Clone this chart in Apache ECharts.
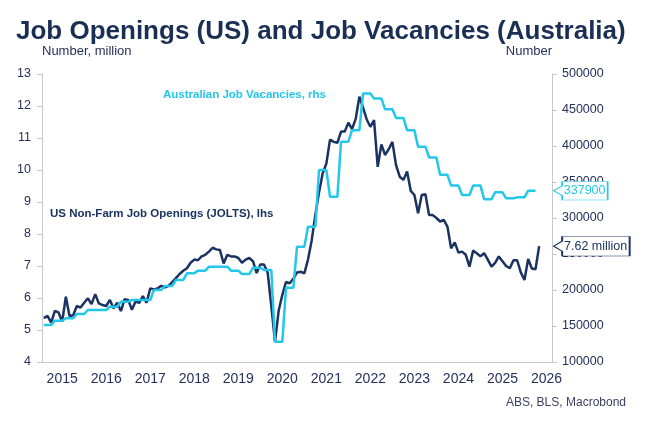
<!DOCTYPE html>
<html>
<head>
<meta charset="utf-8">
<script src="https://cdn.jsdelivr.net/npm/echarts@6/dist/echarts.min.js"></script>
<style>
  html, body { margin: 0; padding: 0; background: #fff; }
  #main { width: 646px; height: 430px; }
</style>
</head>
<body>
<div id="main"></div>
<script>
// x axis runs Jan 2015 .. Jul 2026, one category per month
const startYear = 2015;
const monthCount = 139;

// US job openings (JOLTS), million, monthly from Jan 2015
const joltsValues = [
  5.37, 5.44, 5.23, 5.60, 5.55, 5.26, 6.04, 5.44, 5.46, 5.75, 5.70, 5.85,
  5.99, 5.81, 6.12, 5.83, 5.78, 5.75, 5.94, 5.68, 5.85, 5.59, 5.96, 5.94,
  5.63, 5.89, 5.85, 6.06, 5.85, 6.30, 6.27, 6.30, 6.38, 6.33, 6.38, 6.50,
  6.62, 6.75, 6.85, 6.93, 7.10, 7.20, 7.18, 7.30, 7.35, 7.45, 7.57, 7.52,
  7.50, 7.08, 7.35, 7.30, 7.30, 7.25, 7.10, 7.20, 7.25, 7.15, 6.78, 7.05,
  7.05, 6.80, 5.75, 4.64, 5.60, 6.10, 6.50, 6.46, 6.60, 6.80, 6.82, 6.77,
  7.20, 7.80, 8.60, 9.30, 9.90, 10.20, 10.95, 10.88, 10.85, 11.20, 11.20, 11.48,
  11.28, 11.60, 12.29, 11.95, 11.58, 11.35, 11.56, 10.10, 10.80, 10.47, 10.65, 10.88,
  10.15, 9.79, 9.69, 9.95, 9.35, 9.22, 8.65, 9.22, 9.24, 8.59, 8.59, 8.50,
  8.39, 8.44, 8.23, 7.55, 7.74, 7.42, 7.45, 7.35, 6.98, 7.48, 7.40, 7.30,
  7.40, 7.20, 6.98, 7.10, 7.30, 7.15, 7.00, 6.93, 7.18, 7.18, 6.80, 6.56,
  7.22, 6.92, 6.90, 7.62
];

// Australian job vacancies, quarterly from Q1 2015 (each shown for 3 months)
const ausQuarterly = [
  151400, 157400, 160700, 166700,
  172200, 172200, 176800, 183800,
  186100, 186100, 200000, 205600,
  213900, 223200, 226900, 232400,
  232400, 226900, 222200, 231000,
  227800, 128000, 203000, 260000,
  288000, 366700, 329600, 406000,
  422000, 473000, 466000, 451000,
  439000, 422000, 399000, 384000,
  360000, 345000, 332000, 345000,
  326000, 335600, 327300, 328700,
  337900
];

const leftTicks = { min: 4, max: 13, step: 1 };
const rightTicks = { min: 100000, max: 500000, step: 50000 };

const months = [];
for (let i = 0; i < monthCount; i++) {
  const m = (i % 12) + 1;
  months.push(`${startYear + Math.floor(i / 12)}-${m < 10 ? "0" + m : m}`);
}
const ausMonthly = ausQuarterly.flatMap((v) => [v, v, v]);

const navy = "#1b3360";
const cyan = "#22c7e9";
const inkColor = "#26305c";
const axisGrey = "#c8c8c8";
const font = '"Liberation Sans", Arial, sans-serif';

// callout box with a pointer on the left side
function callout(w, h) {
  const a = 8.5, m = h / 2, d = h * 0.26;
  return `path://M0,${m}L${a},${m - d}L${a},0L${w},0L${w},${h}L${a},${h}L${a},${m + d}Z`;
}

const lastMonth = months[months.length - 1];
const joltsLast = joltsValues[joltsValues.length - 1];
const ausLast = ausQuarterly[ausQuarterly.length - 1];

const myChart = echarts.init(document.getElementById("main"), null, { renderer: "canvas" });

myChart.setOption({
  animation: false,
  backgroundColor: "#fff",
  textStyle: { fontFamily: font },
  grid: { left: 42, right: 94, top: 74, bottom: 68, containLabel: false },
  xAxis: {
    type: "category",
    data: months,
    boundaryGap: true,
    axisLine: { lineStyle: { color: axisGrey, width: 1 } },
    axisTick: {
      interval: (i) => i % 12 === 0,
      length: 5,
      lineStyle: { color: axisGrey },
    },
    axisLabel: {
      interval: (i) => i % 12 === 5,
      formatter: (v) => v.slice(0, 4),
      color: inkColor,
      fontSize: 14,
      margin: 10,
      fontFamily: font,
    },
    splitLine: { show: false },
  },
  yAxis: [
    {
      type: "value",
      position: "left",
      min: leftTicks.min,
      max: leftTicks.max,
      interval: leftTicks.step,
      name: "Number, million",
      nameLocation: "end",
      nameGap: 16,
      nameTextStyle: { align: "left", color: inkColor, fontSize: 13, fontFamily: font },
      axisLine: { show: true, lineStyle: { color: axisGrey, width: 1 } },
      axisTick: { show: true, length: 5, lineStyle: { color: axisGrey } },
      axisLabel: { color: inkColor, fontSize: 12.5, margin: 11, fontFamily: font },
      splitLine: { show: false },
    },
    {
      type: "value",
      position: "right",
      min: rightTicks.min,
      max: rightTicks.max,
      interval: rightTicks.step,
      name: "Number",
      nameLocation: "end",
      nameGap: 16,
      nameTextStyle: { align: "right", color: inkColor, fontSize: 13, fontFamily: font },
      axisLine: { show: true, lineStyle: { color: axisGrey, width: 1 } },
      axisTick: { show: true, length: 5, lineStyle: { color: axisGrey } },
      axisLabel: {
        color: inkColor,
        fontSize: 12.5,
        margin: 10,
        fontFamily: font,
        formatter: (v) => String(v),
      },
      splitLine: { show: false },
    },
  ],
  series: [
    {
      name: "US Non-Farm Job Openings (JOLTS), lhs",
      type: "line",
      yAxisIndex: 0,
      data: joltsValues,
      symbol: "none",
      lineStyle: { color: navy, width: 2.5 },
      itemStyle: { color: navy },
      z: 2,
      markPoint: {
        symbol: callout(76, 19.5),
        symbolSize: [76, 19.5],
        symbolOffset: [38 + 3.5, 0],
        itemStyle: { color: "#fff", borderColor: navy, borderWidth: 1 },
        label: {
          show: true,
          position: "inside",
          offset: [4, 0],
          color: navy,
          fontSize: 12.5,
          fontFamily: font,
          formatter: `${joltsLast.toFixed(2)} million`,
        },
        data: [{ coord: [lastMonth, joltsLast] }],
      },
    },
    {
      name: "Australian Job Vacancies, rhs",
      type: "line",
      yAxisIndex: 1,
      data: ausMonthly,
      symbol: "none",
      lineStyle: { color: cyan, width: 2.5 },
      itemStyle: { color: cyan },
      z: 3,
      markPoint: {
        symbol: callout(54, 18.5),
        symbolSize: [54, 18.5],
        symbolOffset: [27 + 3.5, 0],
        itemStyle: { color: "#fff", borderColor: cyan, borderWidth: 1 },
        label: {
          show: true,
          position: "inside",
          offset: [4, 0],
          color: cyan,
          fontSize: 12.5,
          fontFamily: font,
          formatter: String(ausLast),
        },
        data: [{ coord: [lastMonth, ausLast] }],
      },
    },
  ],
  graphic: [
    {
      type: "text",
      style: {
        text: "Job Openings (US) and Job Vacancies (Australia)",
        x: 16, y: 32,
        textVerticalAlign: "middle",
        font: `bold 26px ${font}`,
        fill: "#1b2f55",
      },
    },
    {
      type: "text",
      style: {
        text: "Australian Job Vacancies, rhs",
        x: 163, y: 95,
        textVerticalAlign: "middle",
        font: `bold 11.5px ${font}`,
        fill: cyan,
      },
    },
    {
      type: "text",
      style: {
        text: "US Non-Farm Job Openings (JOLTS), lhs",
        x: 50, y: 214,
        textVerticalAlign: "middle",
        font: `bold 11.5px ${font}`,
        fill: navy,
      },
    },
    {
      type: "text",
      style: {
        text: "ABS, BLS, Macrobond",
        x: 626, y: 403,
        textAlign: "right",
        textVerticalAlign: "middle",
        font: `12px ${font}`,
        fill: "#3a3f5c",
      },
    },
  ],
});
</script>
</body>
</html>
